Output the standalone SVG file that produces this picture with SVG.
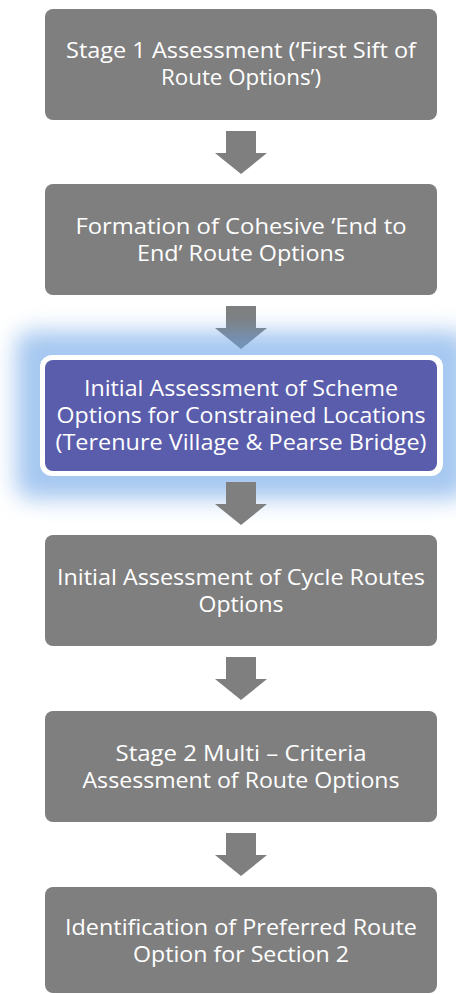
<svg xmlns="http://www.w3.org/2000/svg" width="456" height="994" viewBox="0 0 456 994">
<defs>
<style>
.box{fill:#7f7f7f;}
.hl{fill:#5a5dab;}
.arrow{fill:#7f7f7f;}
.t{font-family:"Open Sans","Liberation Sans",sans-serif;font-size:22.5px;fill:#ffffff;text-anchor:middle;}
</style>
<filter id="glow" x="-30%" y="-50%" width="160%" height="200%">
<feGaussianBlur stdDeviation="11"/>
</filter>
</defs>
<rect width="456" height="994" fill="#ffffff"/>
<g id="connectors">
<path id="a1" class="arrow" d="M226,131 H256 V153 H267 L241,174 L215,153 H226 Z"/>
<path id="a2" class="arrow" d="M226,306 H256 V328 H267 L241,349 L215,328 H226 Z"/>
</g>
<g id="glow-layer">
<rect x="16" y="331" width="452" height="168" rx="16" fill="#6ba3e6" opacity="0.6" filter="url(#glow)"/>
</g>
<g id="connectors2">
<path id="a3" class="arrow" d="M226,482 H256 V504 H267 L241,525 L215,504 H226 Z"/>
<path id="a4" class="arrow" d="M226,657 H256 V679 H267 L241,700 L215,679 H226 Z"/>
<path id="a5" class="arrow" d="M226,833 H256 V855 H267 L241,876 L215,855 H226 Z"/>
</g>
<g id="n1">
<rect class="box" x="45" y="9" width="392" height="111" rx="8"/>
<text class="t" x="241" y="58" textLength="350" lengthAdjust="spacingAndGlyphs">Stage 1 Assessment (‘First Sift of</text>
<text class="t" x="241" y="85" textLength="160" lengthAdjust="spacingAndGlyphs">Route Options’)</text>
</g>
<g id="n2">
<rect class="box" x="45" y="184" width="392" height="111" rx="8"/>
<text class="t" x="241" y="234" textLength="331" lengthAdjust="spacingAndGlyphs">Formation of Cohesive ‘End to</text>
<text class="t" x="241" y="261" textLength="208" lengthAdjust="spacingAndGlyphs">End’ Route Options</text>
</g>
<g id="n3">
<rect x="40" y="355" width="403" height="121" rx="12" fill="#ffffff"/>
<rect class="hl" x="45" y="360" width="392" height="111" rx="8"/>
<text class="t" x="241" y="396" textLength="314" lengthAdjust="spacingAndGlyphs">Initial Assessment of Scheme</text>
<text class="t" x="241" y="423" textLength="369" lengthAdjust="spacingAndGlyphs">Options for Constrained Locations</text>
<text class="t" x="241" y="450" textLength="371" lengthAdjust="spacingAndGlyphs">(Terenure Village &amp; Pearse Bridge)</text>
</g>
<g id="n4">
<rect class="box" x="45" y="535" width="392" height="111" rx="8"/>
<text class="t" x="241" y="585" textLength="368" lengthAdjust="spacingAndGlyphs">Initial Assessment of Cycle Routes</text>
<text class="t" x="241" y="612" textLength="85" lengthAdjust="spacingAndGlyphs">Options</text>
</g>
<g id="n5">
<rect class="box" x="45" y="711" width="392" height="111" rx="8"/>
<text class="t" x="241" y="761" textLength="251" lengthAdjust="spacingAndGlyphs">Stage 2 Multi – Criteria</text>
<text class="t" x="241" y="788" textLength="317" lengthAdjust="spacingAndGlyphs">Assessment of Route Options</text>
</g>
<g id="n6">
<rect class="box" x="45" y="887" width="392" height="106" rx="8"/>
<text class="t" x="241" y="935" textLength="352" lengthAdjust="spacingAndGlyphs">Identification of Preferred Route</text>
<text class="t" x="241" y="962" textLength="216" lengthAdjust="spacingAndGlyphs">Option for Section 2</text>
</g>
</svg>
